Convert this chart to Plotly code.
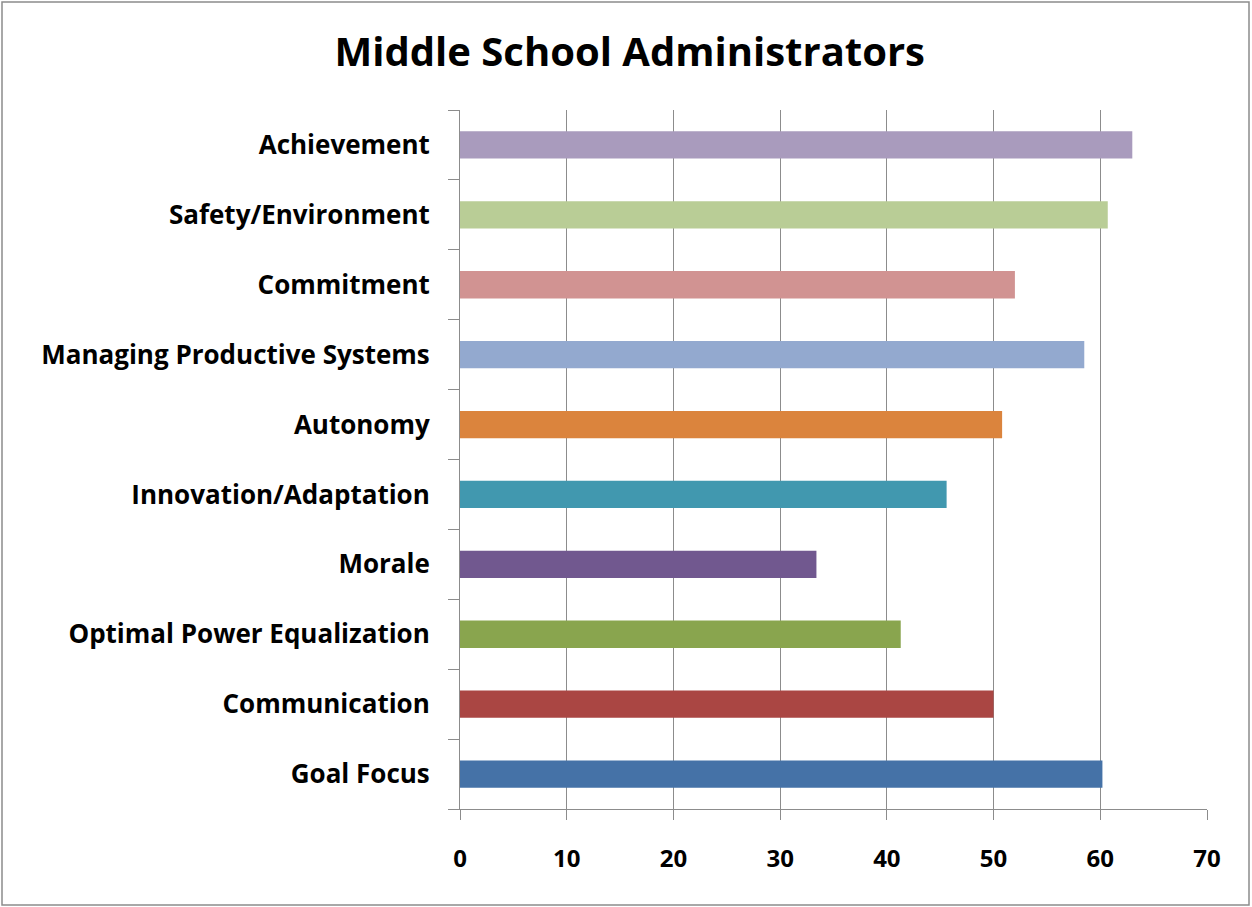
import plotly.graph_objects as go

categories = ["Goal Focus", "Communication", "Optimal Power Equalization", "Morale",
              "Innovation/Adaptation", "Autonomy", "Managing Productive Systems",
              "Commitment", "Safety/Environment", "Achievement"]
values = [60.2, 50.0, 41.3, 33.4, 45.6, 50.8, 58.5, 52.0, 60.7, 63.0]
colors = ["#4572A7", "#AA4643", "#89A54E", "#71588F", "#4198AF", "#DB843D",
          "#93A9CF", "#D19392", "#B9CD96", "#A99BBD"]
x_ticks = [0, 10, 20, 30, 40, 50, 60, 70]

W, H = 1252, 907
L, R, T, B = 460, 45, 110, 98
PW, PH = W - L - R, H - T - B

fig = go.Figure(go.Bar(
    y=categories, x=values, orientation="h",
    marker=dict(color=colors, line=dict(width=0)),
    width=0.39,
))

grid = "#8C8C8C"
fig.update_layout(
    width=W, height=H,
    margin=dict(l=L, r=R, t=T, b=B),
    paper_bgcolor="white", plot_bgcolor="white",
    showlegend=False,
    title=dict(text="<b>Middle School Administrators</b>", x=0.503, xanchor="center",
               y=1 - 52 / H, yanchor="middle",
               font=dict(family="Open Sans", size=40, color="black")),
    font=dict(family="Open Sans", color="black"),
)
fig.update_xaxes(range=[0, 70], tickvals=x_ticks, ticktext=[str(v) for v in x_ticks],
                 showgrid=True, gridcolor=grid, gridwidth=1,
                 showline=True, linecolor=grid, linewidth=1,
                 ticks="outside", ticklen=10, tickcolor=grid,
                 tickfont=dict(family="Open Sans", size=24, color="black", weight="bold"),
                 ticklabelstandoff=18, zeroline=False, fixedrange=True)
fig.update_yaxes(type="category", categoryorder="array", categoryarray=categories,
                 tickson="boundaries", showgrid=False,
                 showline=True, linecolor=grid, linewidth=1,
                 ticks="outside", ticklen=11, tickcolor=grid,
                 tickfont=dict(family="Open Sans", size=26, color="black", weight="bold"),
                 ticklabelstandoff=24, fixedrange=True)
fig.add_shape(type="rect", xref="paper", yref="paper",
              x0=-(L - 2) / PW, x1=1 + (R - 3) / PW, y0=-(B - 2) / PH, y1=1 + (T - 2) / PH,
              line=dict(color="#8C8C8C", width=1.5), layer="below")
fig.write_html("out.html", config={"displayModeBar": False},
               post_script="document.body.style.margin='0px';")
